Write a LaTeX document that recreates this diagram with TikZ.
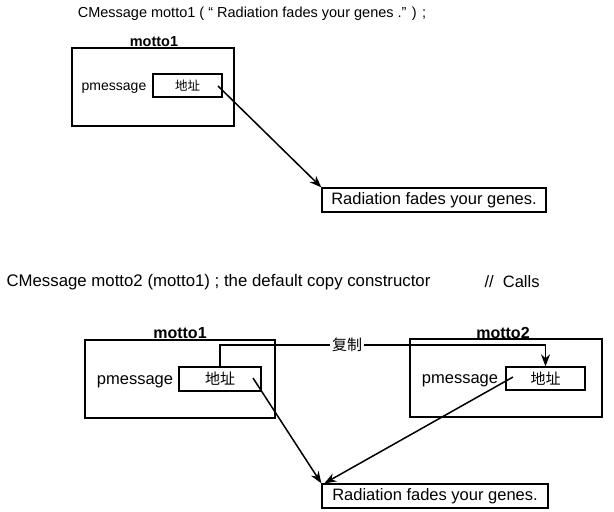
\documentclass[tikz,border=0pt]{standalone}
\usepackage{fontspec}
\setmainfont{Liberation Sans}
\newfontfamily\cjk{Noto Sans CJK SC}
\usetikzlibrary{arrows.meta,positioning}

\tikzset{
  objbox/.style={draw, line width=1.3pt, inner sep=0pt},
  ptr/.style={line width=1.5pt, -{Stealth[length=12pt,width=9pt]}},
  link/.style={line width=1.3pt},
}
\newcommand{\fsz}[1]{\fontsize{#1}{#1}\selectfont}

\begin{document}
\begin{tikzpicture}[x=1pt,y=-1pt]
    \useasboundingbox (0,0) rectangle (614,512);

    % First object: motto1 holds a pointer
    \node (title1) at (252,14) {\fsz{14.5}CMessage motto1 ( “ Radiation fades your genes .” ) ;};
    \node[objbox, minimum width=162pt, minimum height=78pt] (obj1) at (153,87) {};
    \node (name1) at (154,42) {\fsz{14.5}\bfseries motto1};
    \node (pm1) at (114,88) {\fsz{14}pmessage};
    \node[objbox, minimum width=69pt, minimum height=23pt] (addr1) at (187.5,85.5) {\fsz{12.5}\cjk 地址};
    \node[objbox, minimum width=224pt, minimum height=24pt] (str1) at (434,200) {\fsz{16.5}Radiation fades your genes.};
    \coordinate (p1) at (218,86);
    \draw[ptr] (p1) -- (str1.north west);

    % Second part: default copy constructor
    \node[anchor=west] (title2) at (3,282) {\fsz{16.8}CMessage motto2 (motto1) ; the default copy constructor};
    \node[anchor=west] (calls) at (481,282) {\fsz{16.5}// \ Calls};

    % motto1 (original)
    \node[objbox, minimum width=190pt, minimum height=78pt] (obj2a) at (180,379) {};
    \node (name2a) at (180,333) {\fsz{16}\bfseries motto1};
    \node (pm2a) at (135,382) {\fsz{16.5}pmessage};
    \node[objbox, minimum width=82pt, minimum height=24pt] (addr2a) at (220,379) {\fsz{15}\cjk 地址};

    % motto2 (copy)
    \node[objbox, minimum width=192pt, minimum height=78pt] (obj2b) at (506,378) {};
    \node (name2b) at (503,333) {\fsz{16}\bfseries motto2};
    \node (pm2b) at (460,381) {\fsz{16.5}pmessage};
    \node[objbox, minimum width=79pt, minimum height=23pt] (addr2b) at (545.5,378.5) {\fsz{15}\cjk 地址};

    % Shared string
    \node[objbox, minimum width=226pt, minimum height=24pt] (str2) at (435,496) {\fsz{16.5}Radiation fades your genes.};

    % Copying the member
    \node[inner sep=2pt] (copy) at (347,345) {\fsz{15}\cjk 复制};
    \draw[link] (addr2a.north) |- (copy.west);
    \draw[ptr] (copy.east) -| (addr2b.north);

    % Both pointers to one string
    \coordinate (p2a) at (253,378);
    \coordinate (p2b) at (513,377);
    \draw[ptr] (p2a) -- (str2.north west);
    \draw[ptr] (p2b) -- ([xshift=3pt]str2.north west);
\end{tikzpicture}
\end{document}
